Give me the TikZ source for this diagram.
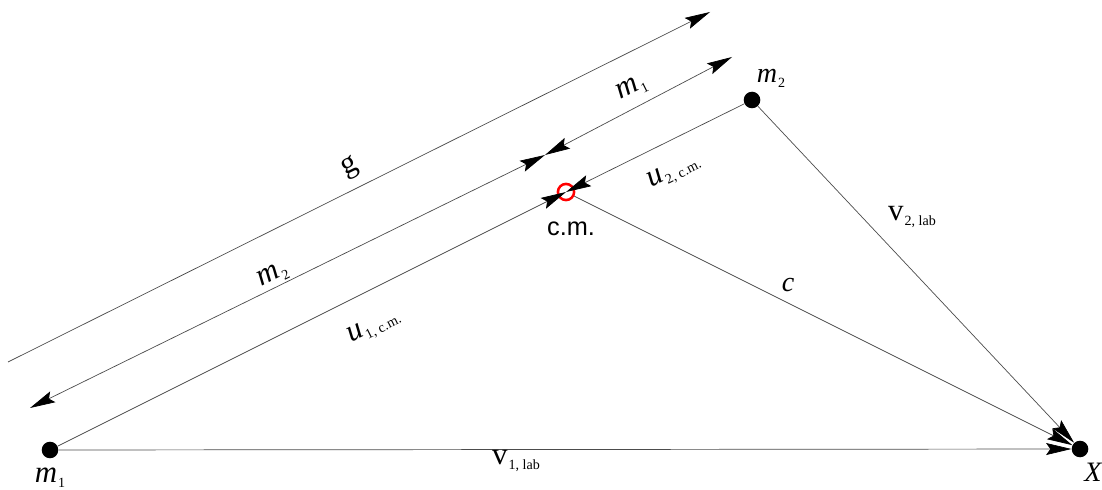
\documentclass[tikz,border=0pt]{standalone}
\usepackage{fontspec}
\setmainfont{Liberation Serif}
\setsansfont{Liberation Sans}
\usetikzlibrary{arrows.meta}

% main symbol with a small lowered index
\newcommand{\sublbl}[2]{#1\kern0.8pt\raisebox{-3.5pt}{\fontsize{10}{10}\selectfont #2}}

\begin{document}
\begin{tikzpicture}[
  x=0.025cm, y=-0.025cm,
  font=\fontsize{22}{24}\selectfont,
  line/.style={black!70, line width=0.5pt},
  arr/.style={line, -{Stealth[length=18pt,width=8.5pt,inset=3pt,color=black]}},
  darr/.style={line, {Stealth[length=18pt,width=8.5pt,inset=3pt,color=black]}-{Stealth[length=18pt,width=8.5pt,inset=3pt,color=black]}},
  dot/.style={circle, fill=black, inner sep=0pt, minimum size=11.8pt},
  ring/.style={circle, draw=red, line width=1.8pt, inner sep=0pt, minimum size=11.5pt},
  lbl/.style={inner sep=1pt},
  along/.style={lbl, rotate=26.5},
]
  \useasboundingbox (0,0) rectangle (1102,490);

  % --- Masses and centre of mass ---
  \node[dot] (m1) at (50,450) {};
  \node[dot] (m2) at (752,100) {};
  \node[dot] (X) at (1080,449) {};
  \coordinate (cm) at (566,192);
  \node[ring] (cmring) at (cm) {};

  % --- Velocities ---
  \draw[arr] (m1) -- (cm);
  \draw[arr] (m2) -- (cm);
  \draw[arr] (cmring) -- (X);
  \draw[arr] (m2) -- (X);
  \draw[arr] (m1) -- (X);

  % --- Relative velocity and its split ---
  \coordinate (gA) at (8,362);
  \coordinate (gB) at (710,12);
  \draw[arr] (gA) -- (gB);

  \coordinate (dA) at (30,408);
  \coordinate (dM) at (545,155);
  \coordinate (dB) at (732,57);
  \draw[darr] (dM) -- (dA);
  \draw[darr] (dM) -- (dB);

  % --- Labels ---
  \node[along] (gL) at (350,168) {g};
  \node[along] (m1L) at (632,88) {\sublbl{\textit{m}}{1}};
  \node[along] (m2L) at (273,275) {\sublbl{\textit{m}}{2}};
  \node[along] (u2L) at (674,172) {\sublbl{\textit{u}}{2, c.m.}};
  \node[along] (u1L) at (374,327) {\sublbl{\textit{u}}{1, c.m.}};
  \node[lbl, font=\fontsize{20}{22}\selectfont] (m2P) at (771,78) {\sublbl{\textit{m}}{2}};
  \node[lbl] (m1P) at (50,478) {\sublbl{\textit{m}}{1}};
  \node[lbl, font=\sffamily\fontsize{18}{20}\selectfont] (cmL) at (571,229) {c.m.};
  \node[lbl, font=\fontsize{20}{22}\selectfont\itshape] (cL) at (788,285) {c};
  \node[lbl] (v2L) at (912,217) {\sublbl{v}{2, lab}};
  \node[lbl] (v1L) at (516,461) {\sublbl{v}{1, lab}};
  \node[lbl, font=\fontsize{20}{22}\selectfont\itshape] (XL) at (1093,472) {X};

\end{tikzpicture}
\end{document}
